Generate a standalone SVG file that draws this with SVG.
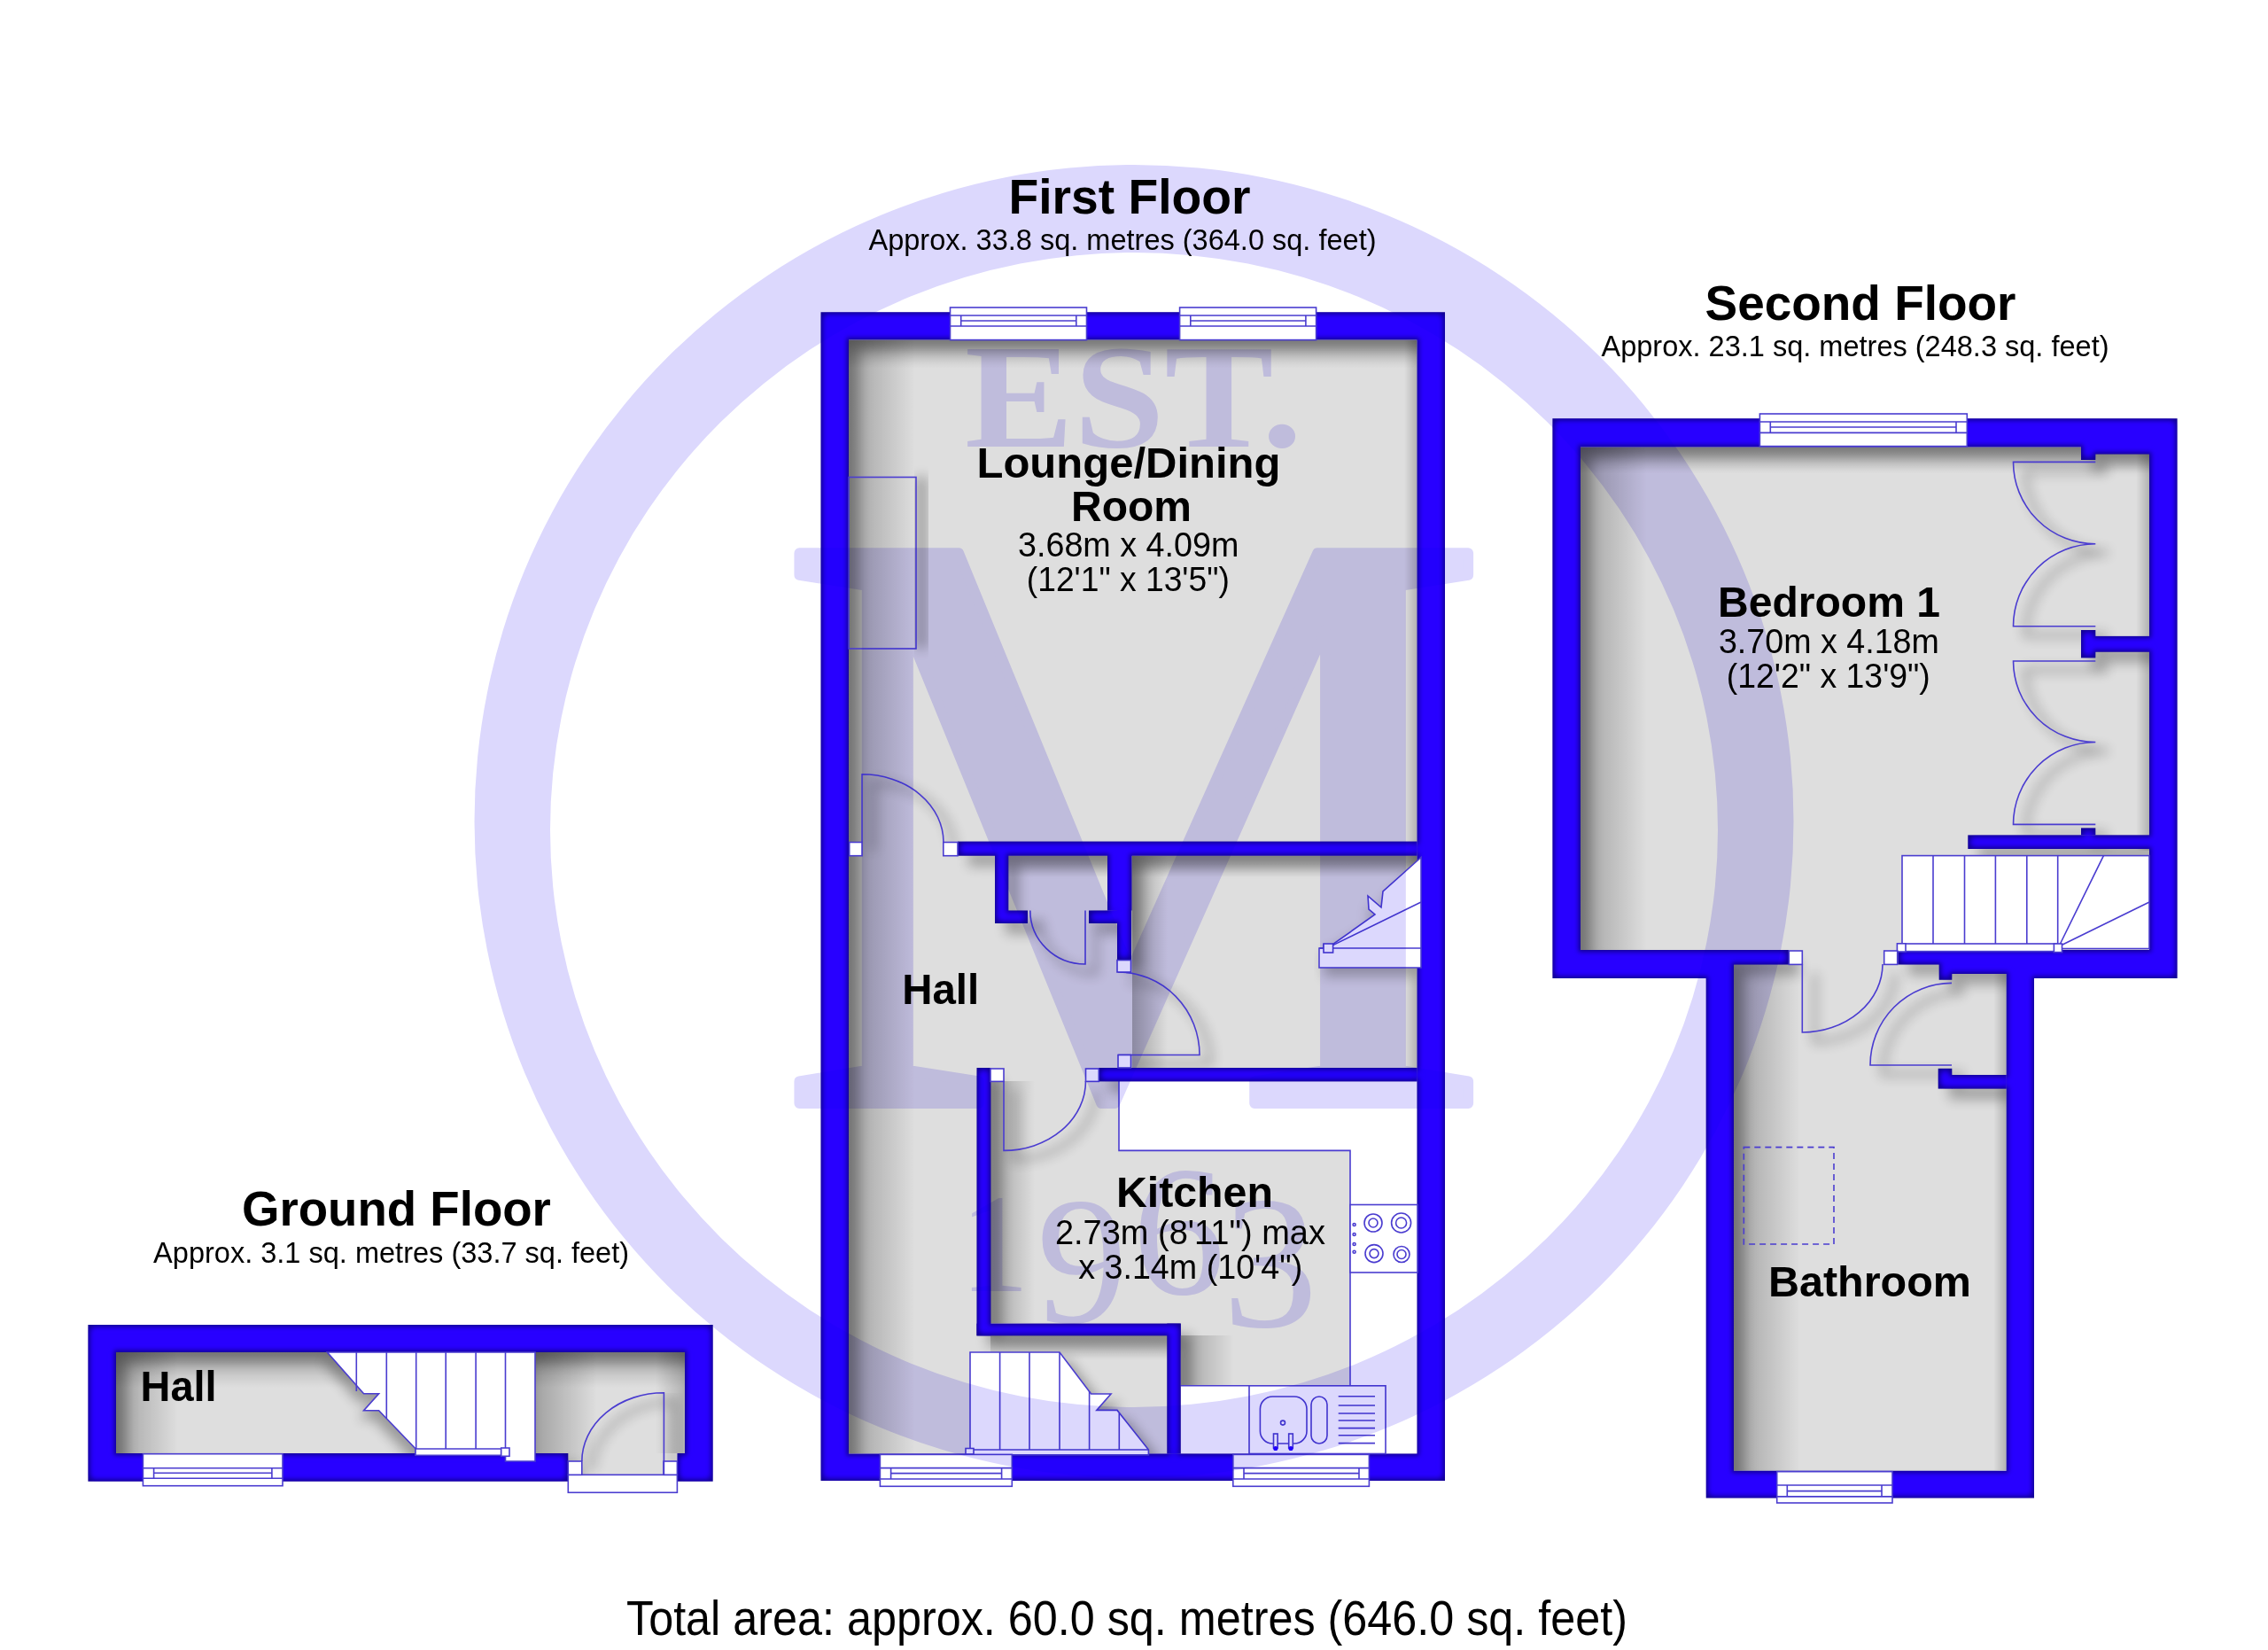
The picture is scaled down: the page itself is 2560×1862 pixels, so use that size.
<svg xmlns="http://www.w3.org/2000/svg" xmlns:xlink="http://www.w3.org/1999/xlink" width="2560" height="1862" viewBox="0 0 2560 1862">
<style>
text{font-family:"Liberation Sans",Arial,sans-serif;fill:#000;text-anchor:middle}
.t{font-size:55px;font-weight:700}
.s{font-size:32.5px}
.r{font-size:49px;font-weight:700}
.d{font-size:38px}
.floor{fill:#dedede}
.wall{fill:#120090}
.ln{fill:none;stroke:#4a3cd0;stroke-width:1.6}
.wh{fill:#fff;stroke:#4a3cd0;stroke-width:1.6}
.sh{fill:#000;stroke:none}
.shl{fill:none;stroke:#000;stroke-width:5}
.wm{mix-blend-mode:multiply;fill:#dcd8fd}
.wmt{font-family:"Liberation Serif","Times New Roman",serif;text-anchor:start;mix-blend-mode:multiply;fill:#dcd8fd}
</style>
<defs>
<linearGradient id="gl" x1="0" x2="1" y1="0" y2="0"><stop offset="0" stop-color="#000" stop-opacity=".27"/><stop offset="1" stop-color="#000" stop-opacity="0"/></linearGradient>
<linearGradient id="gr" x1="1" x2="0" y1="0" y2="0"><stop offset="0" stop-color="#000" stop-opacity=".2"/><stop offset="1" stop-color="#000" stop-opacity="0"/></linearGradient>
<linearGradient id="gt" x1="0" x2="0" y1="0" y2="1"><stop offset="0" stop-color="#000" stop-opacity=".25"/><stop offset="1" stop-color="#000" stop-opacity="0"/></linearGradient>
<filter id="wf" x="-5%" y="-5%" width="110%" height="110%" color-interpolation-filters="sRGB">
<feMorphology in="SourceAlpha" operator="erode" radius="3.5" result="e"/>
<feGaussianBlur in="e" stdDeviation="3" result="b"/>
<feFlood flood-color="#2800ff" result="c"/>
<feComposite in="c" in2="b" operator="in" result="g"/>
<feComposite in="g" in2="SourceAlpha" operator="in" result="gi"/>
<feMerge><feMergeNode in="SourceGraphic"/><feMergeNode in="gi"/><feMergeNode in="gi"/></feMerge>
</filter>
<filter id="bl" x="-10%" y="-10%" width="120%" height="120%"><feGaussianBlur stdDeviation="7"/></filter>
<clipPath id="cf"><rect x="958" y="383.6" width="641.5" height="1256.9"/></clipPath>
<clipPath id="cs"><path d="M1784 504.5H2426V1072H2264.7V1659.8H1957V1072H1784Z"/></clipPath>
<clipPath id="cg"><path d="M131 1526H773V1640H764V1664H641V1640H131Z"/></clipPath>
<g id="wff">
<path fill-rule="evenodd" d="M926.5 352.3H1631V1671H926.5ZM958 383.6V1640.5H1599.5V383.6Z"/>
<rect x="1081" y="949.6" width="518.5" height="16.1"/>
<rect x="1123" y="965" width="15.3" height="77"/><rect x="1123" y="1027.5" width="37" height="14.5"/>
<rect x="1250" y="965" width="27.5" height="62.5"/><rect x="1229" y="1027.5" width="48" height="14.5"/><rect x="1261" y="1027" width="16" height="56.5"/>
<rect x="1240" y="1205" width="359.5" height="15.4"/>
<rect x="1102.5" y="1205" width="15.9" height="302.3"/><rect x="1102.5" y="1493.6" width="230.2" height="13.7"/><rect x="1317.3" y="1493.6" width="15.4" height="146.9"/>
</g>
<g id="wsf">
<path fill-rule="evenodd" d="M1752.4 472.3H2457.6V1104H2296V1690.6H1925.7V1104H1752.4ZM1784 504.5H2349V519H2365.3V512.5H2426V1072H2142.3V1088.4H2188.7V1105.8H2203.3V1099H2264.7V1659.8H1957V1088.4H2019V1072H1784Z"/>
<rect x="2349" y="711" width="16.3" height="31.4"/><rect x="2365" y="717.9" width="61" height="17.8"/>
<rect x="2349" y="934.4" width="16.3" height="8"/><rect x="2221.3" y="942.4" width="204.7" height="15.6"/>
<rect x="2187.7" y="1205.8" width="15.6" height="22.8"/><rect x="2203" y="1213" width="61.7" height="15.6"/>
</g>
<path id="wgf" fill-rule="evenodd" d="M99.4 1495H804.7V1671.7H99.4ZM131 1526H773V1640H764.4V1671.7H641.3V1640H131Z"/>
<path id="dff" d="M973 950.5V873.8A92 76.7 0 0 1 1065 950.5M1225 1027.5V1088A62 60.5 0 0 1 1162.8 1027.5M1262 1097A92 93.5 0 0 1 1354 1190.5H1262M1133 1220V1298.4A92.5 78.4 0 0 0 1225.5 1220"/>
<path id="dsf" d="M2365.3 521.4H2272.5A92.8 92.4 0 0 0 2365.3 613.8A92.8 92.9 0 0 0 2272.5 706.7H2365.3M2365.3 746H2272.5A92.8 91.5 0 0 0 2365.3 837.5A92.8 92.9 0 0 0 2272.5 930.4H2365.3M2034.3 1088V1165A91 77 0 0 0 2125 1088M2203 1202H2111A92 92.6 0 0 1 2203 1109.4"/>
<path id="dgf" d="M749.4 1664V1571.7A92.6 77.3 0 0 0 656.8 1649"/>
<path id="s1" d="M1095 1526H1196L1231.6 1573H1254L1237.8 1591.4H1261L1296.4 1636V1641.9H1095Z"/>
<path id="s2" d="M1604 967.5L1561 1006L1559 1024L1544 1011L1545 1026L1552 1032L1494 1066V1092H1600V967.5Z"/>
<path id="s3" d="M369.4 1526H604V1649H570.5V1642.3H469.2V1635L427.6 1591.7H410.6L427.6 1572.7H410.6Z"/>
</defs>

<rect width="2560" height="1862" fill="#fff"/>

<g id="ground-floor">
<path class="floor" d="M131 1526H773V1640H764V1664H641V1640H131Z"/>
<g clip-path="url(#cg)">
<rect x="131" y="1526" width="70" height="114" fill="url(#gl)"/>
<rect x="604" y="1526" width="70" height="140" fill="url(#gl)"/>
<rect x="131" y="1526" width="642" height="40" fill="url(#gt)"/>
<rect x="740" y="1526" width="33" height="114" fill="url(#gr)"/>
<use xlink:href="#wgf" class="sh" opacity=".3" transform="translate(12 12)" filter="url(#bl)"/>
<use xlink:href="#dgf" class="shl" opacity=".3" transform="translate(12 10)" filter="url(#bl)"/>
<use xlink:href="#s3" class="sh" opacity=".3" transform="translate(-6 10)" filter="url(#bl)"/>
</g>
<use xlink:href="#wgf" class="wall" filter="url(#wf)"/>
<path class="wh" d="M369.4 1526H604V1649H570.5V1642.3H469.2V1635L427.6 1591.7H410.6L427.6 1572.7H410.6Z"/>
<path class="ln" d="M402.3 1526V1570M436.3 1526V1601M469.7 1526V1635M503.2 1526V1635M537.1 1526V1635M570.5 1526V1635"/>
<path class="wh" d="M469 1635H565.7V1642.3H469Z"/>
<rect class="wh" x="565.7" y="1634" width="9.3" height="9.3"/>
<rect class="wh" x="641.3" y="1664.3" width="123.1" height="20"/>
<rect class="wh" x="641.3" y="1649" width="15.5" height="15.3"/>
<rect class="wh" x="749" y="1649" width="15.4" height="15.3"/>
<use xlink:href="#dgf" class="ln"/>
<g><rect class="wh" x="161.4" y="1640.7" width="157.6" height="36"/><path class="ln" d="M161.4 1656.7H319M173.6 1662.3H306.9M161.4 1668.3H319M173.6 1656.7V1668.3M306.9 1656.7V1668.3"/></g>
</g>

<g id="first-floor">
<rect class="floor" x="958" y="383.6" width="641.5" height="1256.9"/>
<g clip-path="url(#cf)">
<rect x="958" y="383.6" width="75" height="1257" fill="url(#gl)"/>
<rect x="958" y="383.6" width="642" height="32" fill="url(#gt)"/>
<rect x="1585" y="383.6" width="15" height="1257" fill="url(#gr)"/>
<rect x="1118" y="1220" width="50" height="273" fill="url(#gl)"/>
<rect x="1118" y="1507" width="215" height="28" fill="url(#gt)"/>
<rect x="1333" y="1507" width="60" height="57" fill="url(#gl)"/>
<rect x="1278" y="966" width="40" height="239" fill="url(#gl)"/>
<rect x="1138" y="966" width="112" height="24" fill="url(#gt)"/>
<rect x="1278" y="966" width="322" height="24" fill="url(#gt)"/>
<use xlink:href="#wff" class="sh" opacity=".28" transform="translate(12 12)" filter="url(#bl)"/>
<use xlink:href="#dff" class="shl" opacity=".3" transform="translate(12 10)" filter="url(#bl)"/>
<rect class="sh" opacity=".3" x="1034" y="538" width="12" height="194" filter="url(#bl)"/>
<use xlink:href="#s1" class="sh" opacity=".3" transform="translate(12 10)" filter="url(#bl)"/>
<use xlink:href="#s2" class="sh" opacity=".25" transform="translate(0 10)" filter="url(#bl)"/>
</g>
<path fill="#fff" d="M1263 1220H1600V1640.5H1332.7V1563.8H1524V1298.4H1263Z"/>
<path class="ln" d="M1263 1220V1298.4H1524V1563.8M1332.7 1563.8H1524"/>
<use xlink:href="#wff" class="wall" filter="url(#wf)"/>
<rect class="ln" x="958" y="538.5" width="76" height="193.5"/>
<g>
<rect class="wh" x="1524" y="1359.5" width="76" height="76.5"/>
<circle class="ln" cx="1550" cy="1380" r="10"/><circle class="ln" cx="1550" cy="1380" r="5"/>
<circle class="ln" cx="1581.6" cy="1380" r="11"/><circle class="ln" cx="1581.6" cy="1380" r="6"/>
<circle class="ln" cx="1551" cy="1414.6" r="10"/><circle class="ln" cx="1551" cy="1414.6" r="5"/>
<circle class="ln" cx="1582" cy="1415.5" r="9"/><circle class="ln" cx="1582" cy="1415.5" r="5"/>
<circle class="ln" cx="1528.6" cy="1382" r="1.5"/><circle class="ln" cx="1528.6" cy="1393" r="1.5"/><circle class="ln" cx="1528.6" cy="1404" r="1.5"/><circle class="ln" cx="1528.6" cy="1412.7" r="1.5"/>
</g>
<g>
<rect class="wh" x="1410" y="1563.8" width="154" height="76.7"/>
<rect class="ln" x="1422.4" y="1576" width="52.6" height="53" rx="14"/>
<rect class="ln" x="1480" y="1576" width="18" height="53" rx="9"/>
<circle class="ln" cx="1448" cy="1605.6" r="2.5"/>
<path class="ln" d="M1510.7 1575.8H1552M1510.7 1586H1552M1510.7 1595H1552M1510.7 1603H1552M1510.7 1611.6H1552M1510.7 1619.8H1552M1510.7 1628.6H1552"/>
<rect class="wh" x="1437.5" y="1618" width="4.6" height="16"/><rect class="wh" x="1454.7" y="1618" width="4.6" height="16"/>
<circle cx="1439.8" cy="1634.5" r="2.6" fill="#2600ff"/><circle cx="1457" cy="1634.5" r="2.6" fill="#2600ff"/>
</g>
<path class="wh" d="M1095 1526H1196L1231.6 1573H1254L1237.8 1591.4H1261L1296.4 1636V1641.9H1095Z"/>
<path class="ln" d="M1128.6 1526V1636M1162 1526V1636M1196 1526V1636M1229.6 1570V1636M1263.3 1595V1636M1095 1636H1296"/>
<rect class="wh" x="1090" y="1634.5" width="9" height="6.5"/>
<path class="wh" d="M1604 967.5L1561 1006L1559 1024L1544 1011L1545 1026L1552 1032L1504 1066L1494 1066V1070H1489V1092H1604Z"/>
<path class="ln" d="M1504.6 1066.6L1604 1018M1489 1070H1604"/>
<rect class="wh" x="1494" y="1065" width="10.6" height="10"/>
<use xlink:href="#dff" class="ln"/>
<g>
<rect class="wh" x="958.7" y="950.5" width="14.3" height="15.2"/>
<rect class="wh" x="1064.8" y="950.5" width="16.2" height="15.2"/>
<rect class="wh" x="1261" y="1083.5" width="15.5" height="13.5"/>
<rect class="wh" x="1262" y="1190.5" width="14.5" height="14.5"/>
<rect class="wh" x="1225.5" y="1206" width="14.8" height="14.4"/>
<rect class="wh" x="1118" y="1206" width="15" height="14.4"/>
</g>
<g><rect class="wh" x="1072.5" y="347" width="154" height="36.6"/><path class="ln" d="M1072.5 356H1226.5M1084.7 362H1214.8M1072.5 368H1226.5M1084.7 356V368M1214.8 356V368"/></g>
<g><rect class="wh" x="1331.6" y="347" width="154" height="36.6"/><path class="ln" d="M1331.6 356H1485.6M1343.8 362H1473.9M1331.6 368H1485.6M1343.8 356V368M1473.9 356V368"/></g>
<g><rect class="wh" x="993.4" y="1641.4" width="148.9" height="35.9"/><path class="ln" d="M993.4 1656.6H1142.3M1005.6 1662.6H1130.6M993.4 1669H1142.3M1005.6 1656.6V1669M1130.6 1656.6V1669"/></g>
<g><rect class="wh" x="1391.8" y="1641.4" width="153.6" height="35.9"/><path class="ln" d="M1391.8 1656.6H1545.4M1404 1662.6H1534M1391.8 1669H1545.4M1404 1656.6V1669M1534 1656.6V1669"/></g>
</g>

<g id="second-floor">
<path class="floor" d="M1784 504.5H2426V1072H2264.7V1659.8H1957V1072H1784Z"/>
<g clip-path="url(#cs)">
<rect x="1784" y="504.5" width="75" height="568" fill="url(#gl)"/>
<rect x="1957" y="1088" width="75" height="572" fill="url(#gl)"/>
<rect x="1784" y="504.5" width="642" height="30" fill="url(#gt)"/>
<rect x="2411" y="504.5" width="15" height="455" fill="url(#gr)"/>
<rect x="2250" y="1099" width="15" height="560" fill="url(#gr)"/>
<use xlink:href="#wsf" class="sh" opacity=".28" transform="translate(12 12)" filter="url(#bl)"/>
<use xlink:href="#dsf" class="shl" opacity=".3" transform="translate(14 10)" filter="url(#bl)"/>
</g>
<use xlink:href="#wsf" class="wall" filter="url(#wf)"/>
<rect class="wh" x="2147" y="965.6" width="279" height="104.9"/>
<path class="ln" d="M2182 965.6V1066M2217.5 965.6V1066M2252.4 965.6V1066M2287.8 965.6V1066M2322.7 965.6V1066M2324 1068L2374.4 965.6M2324 1068L2426 1018"/>
<rect class="wh" x="2147" y="1065" width="174.8" height="8.6"/>
<rect class="wh" x="2141.4" y="1064.8" width="9.6" height="9.2"/>
<rect class="wh" x="2318.4" y="1065" width="9.1" height="9.6"/>
<use xlink:href="#dsf" class="ln"/>
<rect class="wh" x="2019.3" y="1073" width="15" height="15.4"/>
<rect class="wh" x="2126.7" y="1073" width="15" height="15.4"/>
<rect class="ln" x="1968.3" y="1294.6" width="101.7" height="109.4" stroke-dasharray="7 5"/>
<g><rect class="wh" x="1986.4" y="467" width="233.9" height="36.6"/><path class="ln" d="M1986.4 476H2220.3M1998.3 482H2208M1986.4 488.4H2220.3M1998.3 476V488.4M2208 476V488.4"/></g>
<g><rect class="wh" x="2005.7" y="1660.7" width="130.3" height="35.3"/><path class="ln" d="M2005.7 1676H2136M2017.3 1682.6H2124M2005.7 1688.9H2136M2017.3 1676V1688.9M2124 1676V1688.9"/></g>
</g>

<g id="watermark">
<path class="wm" fill-rule="evenodd" d="M535.5 927A744.5 741 0 1 0 2024.5 927A744.5 741 0 1 0 535.5 927ZM621 936.5A659 651.5 0 1 1 1939 936.5A659 651.5 0 1 1 621 936.5Z"/>
<text class="wmt" x="876" y="1245" font-size="948" textLength="808" lengthAdjust="spacingAndGlyphs" stroke="#dcd8fd" stroke-width="12" stroke-linejoin="round">M</text>
<text class="wmt" x="1089" y="504" font-size="168" font-weight="700" textLength="381" lengthAdjust="spacingAndGlyphs">EST.</text>
<text class="wmt"><tspan x="1083" y="1457" font-size="158">1</tspan><tspan x="1170" y="1492" font-size="205">9</tspan><tspan x="1278" y="1460" font-size="210">6</tspan><tspan x="1380" y="1497" font-size="215">3</tspan></text>
</g>

<g id="labels">
<text class="t" x="1275" y="241" textLength="273" lengthAdjust="spacingAndGlyphs">First Floor</text>
<text class="s" x="1267" y="282" textLength="573" lengthAdjust="spacingAndGlyphs">Approx. 33.8 sq. metres (364.0 sq. feet)</text>
<text class="t" x="2100" y="361" textLength="351" lengthAdjust="spacingAndGlyphs">Second Floor</text>
<text class="s" x="2094" y="401.6" textLength="573" lengthAdjust="spacingAndGlyphs">Approx. 23.1 sq. metres (248.3 sq. feet)</text>
<text class="t" x="447.4" y="1383" textLength="349" lengthAdjust="spacingAndGlyphs">Ground Floor</text>
<text class="s" x="441.6" y="1425" textLength="537" lengthAdjust="spacingAndGlyphs">Approx. 3.1 sq. metres (33.7 sq. feet)</text>
<text x="1272" y="1845" font-size="56" textLength="1130" lengthAdjust="spacingAndGlyphs">Total area: approx. 60.0 sq. metres (646.0 sq. feet)</text>
<text class="r" x="1274" y="538.5" textLength="343" lengthAdjust="spacingAndGlyphs">Lounge/Dining</text>
<text class="r" x="1277" y="588" textLength="136" lengthAdjust="spacingAndGlyphs">Room</text>
<text class="d" x="1273.7" y="628" textLength="249.5" lengthAdjust="spacingAndGlyphs">3.68m x 4.09m</text>
<text class="d" x="1273.3" y="667" textLength="229" lengthAdjust="spacingAndGlyphs">(12'1" x 13'5")</text>
<text class="r" x="1061.7" y="1133" textLength="87" lengthAdjust="spacingAndGlyphs">Hall</text>
<text class="r" x="1348.4" y="1362" textLength="177" lengthAdjust="spacingAndGlyphs">Kitchen</text>
<text class="d" x="1343.4" y="1404" textLength="305" lengthAdjust="spacingAndGlyphs">2.73m (8'11") max</text>
<text class="d" x="1343.7" y="1443" textLength="253" lengthAdjust="spacingAndGlyphs">x 3.14m (10'4")</text>
<text class="r" x="2064.5" y="696" textLength="251" lengthAdjust="spacingAndGlyphs">Bedroom 1</text>
<text class="d" x="2064.4" y="737" textLength="249" lengthAdjust="spacingAndGlyphs">3.70m x 4.18m</text>
<text class="d" x="2063.8" y="776" textLength="230" lengthAdjust="spacingAndGlyphs">(12'2" x 13'9")</text>
<text class="r" x="2110.4" y="1463" textLength="229" lengthAdjust="spacingAndGlyphs">Bathroom</text>
<text class="r" x="201.6" y="1581" textLength="86" lengthAdjust="spacingAndGlyphs">Hall</text>
</g>
</svg>
